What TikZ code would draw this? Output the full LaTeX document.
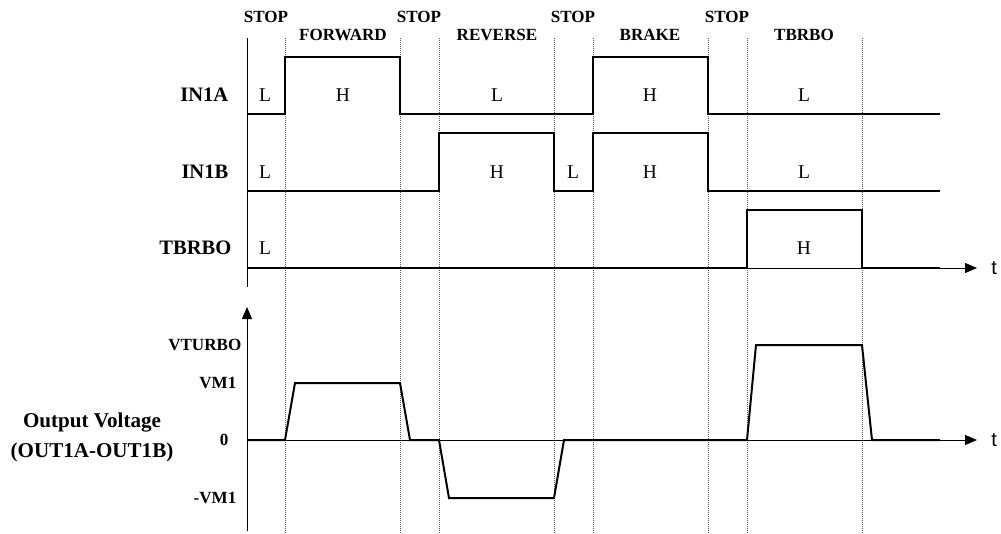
\documentclass[tikz,border=0pt]{standalone}
\usepackage{fontspec}
\setmainfont{Liberation Serif}
\newfontfamily\tfont{Liberation Sans}
\usetikzlibrary{arrows.meta}

\begin{document}
\begin{tikzpicture}[x=0.75pt,y=-0.75pt,
  sig/.style={black,line width=1.5pt,line join=miter},
  axis/.style={black,line width=0.6pt},
  grid/.style={black!65,line width=0.5pt,densely dotted},
  phase/.style={font=\fontsize{12.8}{14}\selectfont\bfseries},
  row/.style={font=\fontsize{15.4}{17}\selectfont\bfseries,anchor=east},
  lvl/.style={font=\fontsize{14.6}{16}\selectfont},
  volt/.style={font=\fontsize{12.8}{14}\selectfont\bfseries,anchor=east},
  tip/.style={-{Triangle[length=9pt,width=7.5pt]}}]

\useasboundingbox (0,0) rectangle (1001,533);

\coordinate (A) at (247,38);
\coordinate (B) at (247,287);
\coordinate (C) at (247,531);
\coordinate (D) at (247,307);

% dotted time marks
\foreach \x in {285,400,439,554,593,708,747,862}
  \draw[grid] (\x,38) -- (\x,533);

\draw[axis] (A) -- (B);
\draw[axis,tip] (C) -- (D);
\coordinate (E) at (247,268);
\coordinate (F) at (977,268);
\coordinate (G) at (247,440);
\coordinate (H) at (977,440);
\draw[axis,tip] (E) -- (F);
\draw[axis,tip] (G) -- (H);

% inputs
\draw[sig] (247,114) -- (285,114) -- (285,57) -- (400,57) -- (400,114) -- (593,114)
  -- (593,57) -- (708,57) -- (708,114) -- (940,114);
\draw[sig] (247,191) -- (439,191) -- (439,133) -- (554,133) -- (554,191) -- (593,191)
  -- (593,133) -- (708,133) -- (708,191) -- (940,191);
\draw[sig] (247,268) -- (747,268) -- (747,210) -- (862,210) -- (862,268) -- (940,268);

% output
\draw[sig] (247,440) -- (285,440) -- (295,383) -- (400,383) -- (410,440) -- (439,440)
  -- (449,498) -- (554,498) -- (564,440) -- (747,440) -- (756,345) -- (862,345)
  -- (872,440) -- (940,440);

\node[phase] (s1) at (266,17) {STOP};
\node[phase] (s2) at (419,17) {STOP};
\node[phase] (s3) at (573,17) {STOP};
\node[phase] (s4) at (727,17) {STOP};
\node[phase] (fw) at (343,35) {FORWARD};
\node[phase] (rv) at (497,35) {REVERSE};
\node[phase] (bk) at (650,35) {BRAKE};
\node[phase] (tb) at (804,35) {TBRBO};

\node[row] (ina) at (233,95) {IN1A};
\node[row] (inb) at (233,172) {IN1B};
\node[row] (tbr) at (236,248) {TBRBO};

\node[lvl] (a1) at (265,95) {L};
\node[lvl] (a2) at (343,95) {H};
\node[lvl] (a3) at (497,95) {L};
\node[lvl] (a4) at (650,95) {H};
\node[lvl] (a5) at (804,95) {L};
\node[lvl] (b1) at (265,172) {L};
\node[lvl] (b2) at (497,172) {H};
\node[lvl] (b3) at (573,172) {L};
\node[lvl] (b4) at (650,172) {H};
\node[lvl] (b5) at (804,172) {L};
\node[lvl] (c1) at (265,248) {L};
\node[lvl] (c2) at (804,248) {H};

\node[volt] (vt) at (246,345) {VTURBO};
\node[volt] (vm) at (241,383) {VM1};
\node[volt] (v0) at (233,440) {0};
\node[volt] (vn) at (241,498) {-VM1};

\node[font=\fontsize{15.8}{22.5}\selectfont\bfseries,align=center] (out) at (92,437)
  {Output Voltage\\(OUT1A-OUT1B)};

\node[font=\tfont\fontsize{15}{17}\selectfont,anchor=west,inner sep=0pt] (t1) at (991,268) {t};
\node[font=\tfont\fontsize{15}{17}\selectfont,anchor=west,inner sep=0pt] (t2) at (991,440) {t};

\end{tikzpicture}
\end{document}
